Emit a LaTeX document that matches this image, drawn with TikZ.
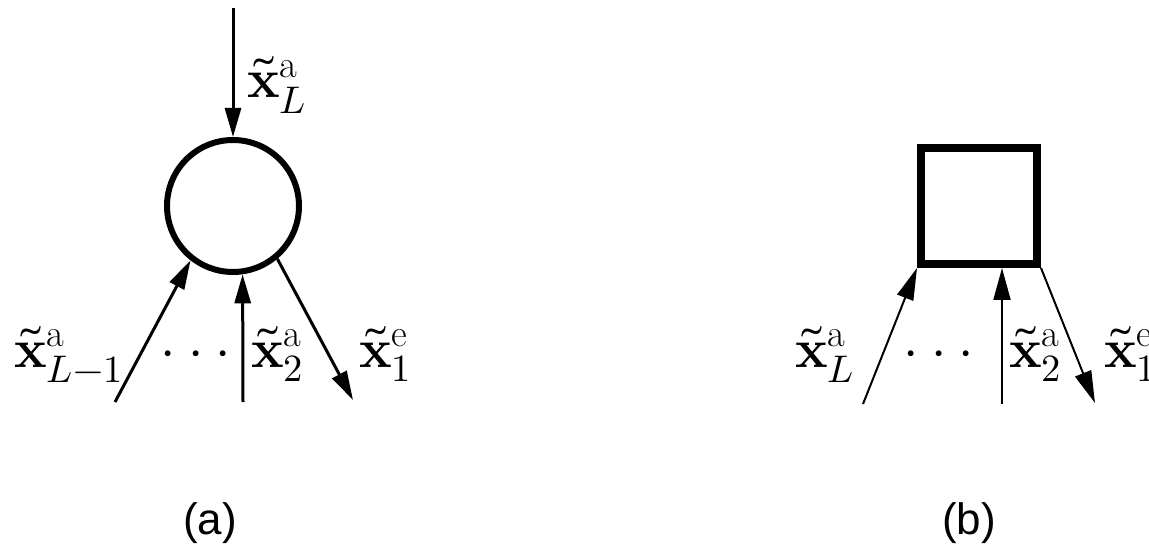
\documentclass[tikz,border=0pt]{standalone}
\usepackage{fontspec}
\usepackage{unicode-math}
\setmathfont{Latin Modern Math}
\newfontfamily\capfont{Liberation Sans}
\usetikzlibrary{arrows.meta}
\newcommand{\mydots}{\mathord{\cdot}\mkern4mu\mathord{\cdot}\mkern4mu\mathord{\cdot}}
\begin{document}
\begin{tikzpicture}[x=1pt,y=-1pt,
  lbl/.style={anchor=base west,inner sep=0pt,font=\fontsize{55}{62}\selectfont},
  dotlbl/.style={anchor=base,inner sep=0pt,font=\fontsize{55}{62}\selectfont},
  captext/.style={inner sep=0pt,font=\capfont\fontsize{44}{50}\selectfont},
  arra/.style={line width=3pt,-{Triangle[length=29pt,width=16pt]}},
  arrb/.style={line width=2pt,-{Triangle[length=32pt,width=17pt]}}
]
\useasboundingbox (0,0) rectangle (1149,553);
% panel (a)
\node[circle,draw,line width=6pt,minimum size=132pt,inner sep=0pt] (c) at (233,206) {};
\coordinate (ta) at (233,8);
\coordinate (la) at (115,402);
\coordinate (ma) at (243,402);
\coordinate (ra) at (353,400);
\draw[arra] (ta) -- (c.north);
\draw[arra] (la) -- (c.232);
\draw[arra] (ma) -- (c.278);
\draw[arra] (c.310) -- (ra);
\node[lbl] (xL) at (247,98) {$\tilde{\mathbf{x}}^{\mathrm{a}}_{L}$};
\node[lbl] (xL1) at (14,367) {$\tilde{\mathbf{x}}^{\mathrm{a}}_{L-1}$};
\node[dotlbl] (da) at (196,367) {$\mydots$};
\node[lbl] (x2a) at (251,367) {$\tilde{\mathbf{x}}^{\mathrm{a}}_{2}$};
\node[lbl] (x1a) at (359,367) {$\tilde{\mathbf{x}}^{\mathrm{e}}_{1}$};
\node[captext] (capa) at (210,523) {(a)};
% panel (b)
\node[draw,line width=8pt,minimum size=116pt,inner sep=0pt] (s) at (979,206) {};
\coordinate (lb) at (863,404);
\coordinate (mb) at (1002,404);
\coordinate (rb) at (1095,403);
\draw[arrb] (lb) -- (s.south west);
\draw[arrb] (mb) -- (mb |- s.south);
\draw[arrb] (s.south east) -- (rb);
\node[lbl] (xLb) at (795,367) {$\tilde{\mathbf{x}}^{\mathrm{a}}_{L}$};
\node[dotlbl] (db) at (939,367) {$\mydots$};
\node[lbl] (x2b) at (1009,367) {$\tilde{\mathbf{x}}^{\mathrm{a}}_{2}$};
\node[lbl] (x1b) at (1104,367) {$\tilde{\mathbf{x}}^{\mathrm{e}}_{1}$};
\node[captext] (capb) at (969,523) {(b)};
\end{tikzpicture}
\end{document}
